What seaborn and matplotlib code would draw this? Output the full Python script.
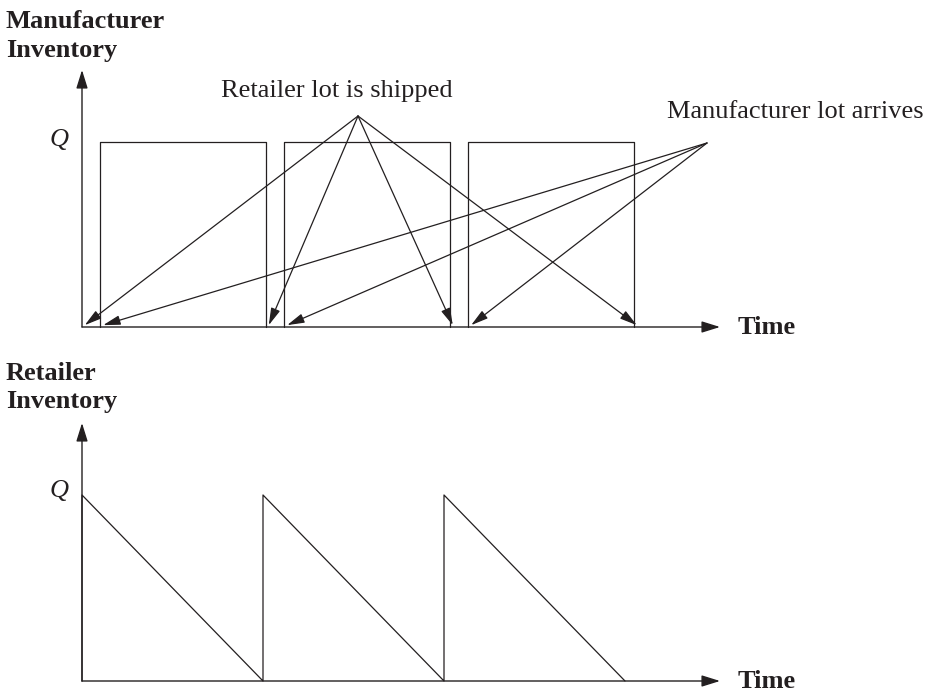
import matplotlib

matplotlib.use("Agg")
import matplotlib.pyplot as plt
import pandas as pd
import seaborn as sns

# inventory level of one lot
Q = 1.0

# time in retailer cycles
RETAILER_SHIP_TIMES = [0.0, 1.0, 2.0, 3.0]
MANUFACTURER_ARRIVAL_TIMES = [0.1, 1.1, 2.1]
MANUFACTURER_SHIP_TIMES = [1.0, 2.0, 3.0]

INK = "#231f20"
SERIF = ["Liberation Serif", "DejaVu Serif"]
FIG_W, FIG_H = 925, 692


def configure_style() -> None:
    sns.set_theme(style="white")
    plt.rcParams["font.family"] = SERIF


def manufacturer_frame() -> pd.DataFrame:
    rows = []
    for lot, (t_in, t_out) in enumerate(zip(MANUFACTURER_ARRIVAL_TIMES, MANUFACTURER_SHIP_TIMES)):
        for t, level in [(t_in, 0.0), (t_in, Q), (t_out, Q), (t_out, 0.0)]:
            rows.append({"lot": lot, "time": t, "inventory": level})
    return pd.DataFrame(rows)


def retailer_frame() -> pd.DataFrame:
    rows = [{"time": RETAILER_SHIP_TIMES[0], "inventory": 0.0}]
    for t0, t1 in zip(RETAILER_SHIP_TIMES[:-1], RETAILER_SHIP_TIMES[1:]):
        rows.append({"time": t0, "inventory": Q})
        rows.append({"time": t1, "inventory": 0.0})
    return pd.DataFrame(rows)


def px_axes(fig, left, right, baseline, top):
    # axes rectangle given in pixel positions of the 925x692 canvas
    return fig.add_axes(
        [left / FIG_W, 1 - baseline / FIG_H, (right - left) / FIG_W, (baseline - top) / FIG_H]
    )


def draw_frame(ax, q_lift):
    ax.axis("off")
    arrow = dict(arrowstyle="-|>,head_length=0.8,head_width=0.25", mutation_scale=14,
                 color=INK, lw=1.0, shrinkA=0, shrinkB=0)
    ax.annotate("", xy=(1, 0), xytext=(0, 0), xycoords="axes fraction", arrowprops=arrow)
    ax.annotate("", xy=(0, 1), xytext=(0, 0), xycoords="axes fraction", arrowprops=arrow)
    ax.annotate("Time", xy=(1, 0), xycoords="axes fraction", xytext=(18 * 0.72, 0),
                textcoords="offset points", ha="left", va="center",
                fontsize=19, fontweight="bold", color=INK)
    ax.annotate("Q", xy=(0, Q), xytext=(-23 * 0.72, q_lift * 0.72), textcoords="offset points",
                ha="center", va="center", fontsize=19, fontstyle="italic", color=INK)


def main() -> None:
    configure_style()
    fig = plt.figure(figsize=(FIG_W / 100, FIG_H / 100), dpi=100)

    # manufacturer panel
    ax_m = px_axes(fig, 82, 720, 327, 70)
    ax_m.set_xlim(0, 638 / 184)
    ax_m.set_ylim(0, 257 / 185)
    sns.lineplot(data=manufacturer_frame(), x="time", y="inventory", units="lot",
                 estimator=None, sort=False, color=INK, lw=0.9, clip_on=False, ax=ax_m)
    draw_frame(ax_m, 2)

    pointer = dict(arrowstyle="-|>,head_length=0.8,head_width=0.22", mutation_scale=13,
                   color=INK, lw=0.9, shrinkA=0, shrinkB=0)
    shipped_from = (276 / 184, 211 / 185)
    arrives_from = (625 / 184, 184 / 185)
    for t in RETAILER_SHIP_TIMES:
        ax_m.annotate("", xy=(t + 0.015, 0.01), xytext=shipped_from, arrowprops=pointer)
    for t in MANUFACTURER_ARRIVAL_TIMES:
        ax_m.annotate("", xy=(t + 0.015, 0.01), xytext=arrives_from, arrowprops=pointer)
    ax_m.text(255 / 184, 236 / 185, "Retailer lot is shipped", ha="center", va="center",
              fontsize=19, color=INK)
    ax_m.text(713 / 184, 215 / 185, "Manufacturer lot arrives", ha="center", va="center",
              fontsize=19, color=INK)

    # retailer panel
    ax_r = px_axes(fig, 82, 720, 681, 423)
    ax_r.set_xlim(0, 638 / 181)
    ax_r.set_ylim(0, 258 / 186)
    sns.lineplot(data=retailer_frame(), x="time", y="inventory", estimator=None, sort=False,
                 color=INK, lw=0.9, clip_on=False, ax=ax_r)
    draw_frame(ax_r, 4)

    title_kw = dict(fontsize=19, fontweight="bold", color=INK, ha="left", va="baseline")
    fig.text(6 / FIG_W, 1 - 28 / FIG_H, "Manufacturer", **title_kw)
    fig.text(6 / FIG_W, 1 - 57 / FIG_H, "Inventory", **title_kw)
    fig.text(6 / FIG_W, 1 - 380 / FIG_H, "Retailer", **title_kw)
    fig.text(6 / FIG_W, 1 - 408 / FIG_H, "Inventory", **title_kw)

    for ax in (ax_m, ax_r):
        if ax.get_legend() is not None:
            ax.get_legend().remove()

    fig.savefig("out.png", dpi=100, facecolor="white")
    plt.close(fig)


if __name__ == "__main__":
    main()
